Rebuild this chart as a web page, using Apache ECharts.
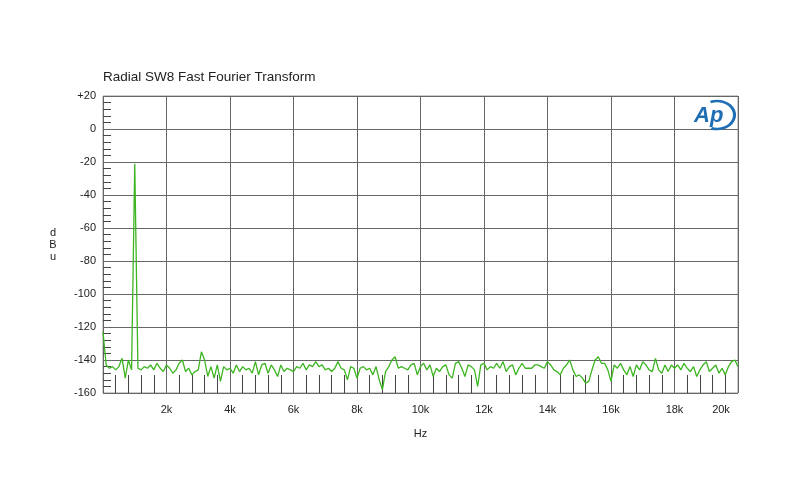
<!DOCTYPE html>
<html><head><meta charset="utf-8">
<script src="https://cdn.jsdelivr.net/npm/echarts@6/dist/echarts.min.js"></script>
<style>html,body{margin:0;background:#fff}#c{width:800px;height:500px}</style>
</head><body><div id="c"></div>
<script>
const chartTitle = 'Radial SW8 Fast Fourier Transform';
const xName = 'Hz';
const yName = 'd\nB\nu';
const binHz = 100; // FFT bin spacing, first bin at 0 Hz
const levelsDbu = [
  -123,-143,-145,-144,-146,-144,-139,-151,-140,-146,
  -21,-145,-146,-144,-145,-143,-146,-142,-145,-147,
  -143,-145,-148,-146,-142,-140,-147,-145,-149,-147,
  -146,-135,-140,-150,-144,-151,-143,-153,-144,-146,
  -145,-148,-143,-147,-144,-146,-145,-148,-141,-149,
  -143,-142,-148,-143,-146,-150,-143,-147,-145,-146,
  -147,-144,-145,-142,-146,-143,-144,-141,-144,-143,
  -146,-145,-147,-145,-141,-145,-146,-152,-144,-145,
  -151,-145,-144,-146,-145,-149,-144,-152,-158,-147,
  -144,-140,-138,-145,-144,-145,-146,-143,-142,-149,
  -144,-142,-146,-143,-150,-145,-147,-144,-143,-149,
  -151,-142,-141,-145,-150,-143,-144,-146,-156,-143,
  -142,-146,-144,-145,-142,-145,-141,-147,-144,-143,
  -149,-145,-142,-145,-145,-145,-143,-143,-144,-145,
  -141,-143,-146,-147,-149,-145,-143,-140,-146,-150,
  -149,-151,-154,-153,-146,-140,-138,-142,-142,-146,
  -153,-143,-145,-142,-146,-149,-144,-150,-143,-146,
  -141,-143,-146,-147,-139,-146,-148,-143,-147,-143,
  -145,-143,-146,-142,-145,-147,-144,-150,-146,-143,
  -141,-147,-145,-143,-148,-145,-149,-144,-141,-140,
  -144
];
const xMinHz = 0, xMaxHz = 20000, xStepHz = 2000;
const yMinDb = -160, yMaxDb = 20, yStepDb = 20;

const font = 'Arial, "Liberation Sans", Helvetica, sans-serif';
const data = levelsDbu.map((v, i) => [i * binHz, v]);

const chart = echarts.init(document.getElementById('c'), null, {renderer: 'canvas'});
chart.setOption({
  backgroundColor: '#fff',
  animation: false,
  title: {
    text: chartTitle, left: 98, top: 65,
    textStyle: {fontFamily: font, fontSize: 13.5, fontWeight: 'normal', color: '#222'}
  },
  grid: {left: 103, right: 62, top: 96, bottom: 107, show: true, borderColor: '#999', borderWidth: 1, backgroundColor: '#fff'},
  xAxis: {
    type: 'value', min: xMinHz, max: xMaxHz, interval: xStepHz, position: 'bottom',
    name: xName, nameLocation: 'middle', nameGap: 35,
    nameTextStyle: {fontFamily: font, fontSize: 11, color: '#222'},
    axisLine: {show: false, onZero: false},
    axisTick: {show: false, inside: true},
    minorTick: {show: true, splitNumber: 5, length: 18, lineStyle: {color: '#444', width: 1}},
    splitLine: {show: true, lineStyle: {color: '#666', width: 1}},
    axisLabel: {
      fontFamily: font, fontSize: 11, color: '#222', margin: 11,
      formatter: v => v === 0 ? '' : (v >= xMaxHz ? '{end|' + (v / 1000) + 'k}' : (v / 1000) + 'k'),
      rich: {end: {fontFamily: font, fontSize: 11, color: '#222', padding: [0, 34, 0, 0]}}
    }
  },
  yAxis: {
    type: 'value', min: yMinDb, max: yMaxDb, interval: yStepDb, position: 'left',
    name: yName, nameLocation: 'middle', nameGap: 50, nameRotate: 0,
    nameTextStyle: {fontFamily: font, fontSize: 11, color: '#222', align: 'center', verticalAlign: 'middle', lineHeight: 12},
    axisLine: {show: false, onZero: false},
    axisTick: {show: false, inside: true},
    minorTick: {show: true, splitNumber: 5, length: 8, lineStyle: {color: '#444', width: 1}},
    splitLine: {show: true, lineStyle: {color: '#666', width: 1}},
    axisLabel: {
      fontFamily: font, fontSize: 11, color: '#222', margin: 7,
      formatter: v => v > 0 ? '+' + v : String(v)
    }
  },
  graphic: [
    {type: 'arc', shape: {cx: 717, cy: 115, r: 14, startAngle: -1.95, endAngle: 1.9},
     scaleX: 1.25, originX: 717, originY: 115,
     style: {stroke: '#1f6db3', lineWidth: 2.5, fill: null}, z: 10},
    {type: 'text', left: 694, top: 105,
     style: {text: 'Ap', fontFamily: font, fontSize: 22, fontStyle: 'italic', fontWeight: 'bold', fill: '#1f6db3'}, z: 11}
  ],
  series: [{
    type: 'line', data: data, showSymbol: false, symbol: 'none', smooth: false,
    lineStyle: {color: '#3cb521', width: 1.3}, clip: true
  }]
});
</script></body></html>
